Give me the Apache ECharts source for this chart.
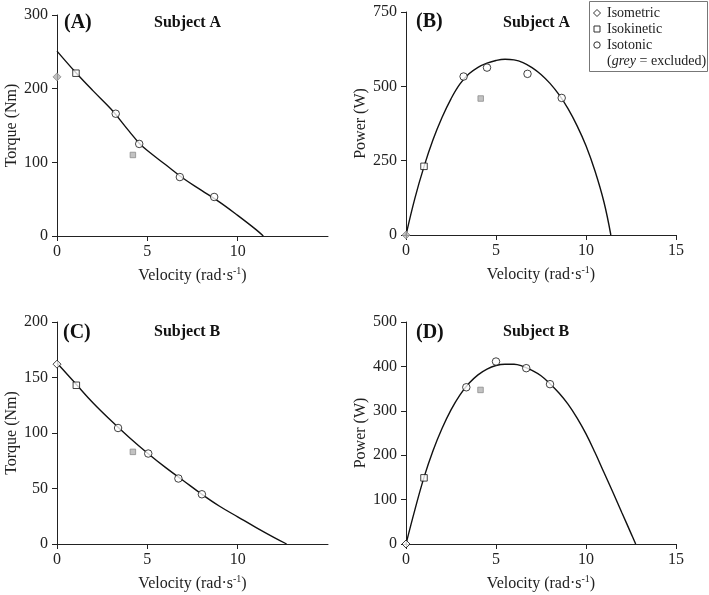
<!DOCTYPE html>
<html><head><meta charset="utf-8">
<script src="https://cdn.jsdelivr.net/npm/echarts@6/dist/echarts.min.js"></script>
<style>html,body{margin:0;padding:0;background:#fff}#c{width:709px;height:595px}</style>
</head><body><div id="c"></div>
<script>
// ---- Data ----
// Panel A: Subject A torque-velocity
const curveA_v = [0, 1, 2, 3, 4, 4.55, 5, 6, 7, 8, 9, 10, 11, 11.42];
const curveA_T = [251, 223, 197, 172, 142, 126, 116, 97, 78, 62, 46, 28, 9, 0];
const isometricA = [[0, 216]];
const isokineticA = [[1.05, 221]];
const isokineticA_excl = [[4.2, 110]];
const isotonicA_v = [3.25, 4.55, 6.8, 8.7];
const isotonicA_T = [166, 125, 80, 53];
// Panel B: Subject A power-velocity
const curveB_v = [0, 0.5, 1, 1.5, 2, 2.5, 3, 3.5, 4, 4.5, 5, 5.5, 6, 6.5, 7, 7.5, 8, 8.5, 9, 9.5, 10, 10.5, 11, 11.38];
const curveB_P = [0, 125, 230, 320, 395, 458, 508, 542, 564, 578, 587, 591, 589, 580, 563, 540, 510, 472, 425, 368, 300, 215, 110, 0];
const isometricB = [[0, 0]];
const isokineticB = [[1.0, 231]];
const isokineticB_excl = [[4.15, 459]];
const isotonicB_v = [3.2, 4.5, 6.75, 8.65];
const isotonicB_P = [533, 563, 542, 461];
// Panel C: Subject B torque-velocity
const curveC_v = [0, 1, 2, 3, 4, 5, 6, 7, 8, 9, 10, 11, 12, 12.71];
const curveC_T = [163, 145, 127, 111, 96, 82, 69, 57, 45, 34, 24.5, 15, 6, 0];
const isometricC = [[0, 162]];
const isokineticC = [[1.07, 143]];
const isokineticC_excl = [[4.2, 83]];
const isotonicC_v = [3.38, 5.05, 6.72, 8.02];
const isotonicC_T = [104.5, 81.5, 59, 44.8];
// Panel D: Subject B power-velocity
const curveD_v = [0, 0.5, 1, 1.5, 2, 2.5, 3, 3.5, 4, 4.5, 5, 5.5, 6, 6.5, 7, 7.5, 8, 8.5, 9, 9.5, 10, 10.5, 11, 11.5, 12, 12.5, 12.76];
const curveD_P = [0, 78, 150, 210, 260, 302, 336, 362, 381, 394, 402, 405, 405, 400, 391, 379, 361, 340, 315, 284, 248, 206, 161, 116, 70, 24, 0];
const isometricD = [[0, 0]];
const isokineticD = [[1.0, 149]];
const isokineticD_excl = [[4.14, 347]];
const isotonicD_v = [3.35, 5.0, 6.68, 8.0];
const isotonicD_P = [353, 411, 396, 360];

const panelLabels = ['(A)', '(B)', '(C)', '(D)'];
const subjectLabels = ['Subject A', 'Subject A', 'Subject B', 'Subject B'];
const yNames = ['Torque (Nm)', 'Power (W)', 'Torque (Nm)', 'Power (W)'];
const yMax = [300, 750, 200, 500];
const yInterval = [100, 250, 50, 100];
const xName = 'Velocity (rad\u00B7s{sup|-1})';
const legendLabels = ['Isometric', 'Isokinetic', 'Isotonic'];

// ---- Build chart ----
const FONT = 'Liberation Serif';
const INK = '#222';
const GREY_FILL = '#b3b3b3', GREY_BORDER = '#8c8c8c';
const zip = (a, b) => a.map((v, i) => [v, b[i]]);

const grids = [
  {left: 57, top: 15, width: 271, height: 221},
  {left: 406, top: 12, width: 270, height: 223},
  {left: 57, top: 322, width: 271, height: 222},
  {left: 406, top: 322, width: 270, height: 222}
];

const xAxes = grids.map((g, i) => ({
  type: 'value', gridIndex: i, min: 0, max: 15, interval: 5,
  axisLine: {show: true, onZero: false, lineStyle: {color: INK, width: 1}},
  axisTick: {show: true, length: 5, lineStyle: {color: INK}},
  splitLine: {show: false},
  axisLabel: {fontFamily: FONT, fontSize: 16, color: INK, margin: 8, showMaxLabel: (i % 2 === 1)},
  name: xName, nameLocation: 'middle', nameGap: 30,
  nameTextStyle: {fontFamily: FONT, fontSize: 16, color: INK, lineHeight: 20,
    rich: {sup: {fontFamily: FONT, fontSize: 10, lineHeight: 10, verticalAlign: 'top', color: INK}}}
}));

const yAxes = grids.map((g, i) => ({
  type: 'value', gridIndex: i, min: 0, max: yMax[i], interval: yInterval[i],
  axisLine: {show: true, onZero: false, lineStyle: {color: INK, width: 1}},
  axisTick: {show: true, length: 5, lineStyle: {color: INK}},
  splitLine: {show: false},
  axisLabel: {fontFamily: FONT, fontSize: 16, color: INK, margin: 9},
  name: yNames[i], nameLocation: 'middle', nameGap: 37, nameRotate: 90,
  nameTextStyle: {fontFamily: FONT, fontSize: 16, color: INK}
}));

const curves = [zip(curveA_v, curveA_T), zip(curveB_v, curveB_P), zip(curveC_v, curveC_T), zip(curveD_v, curveD_P)];
const isometric = [isometricA, isometricB, isometricC, isometricD];
const isokinetic = [isokineticA, isokineticB, isokineticC, isokineticD];
const isokineticEx = [isokineticA_excl, isokineticB_excl, isokineticC_excl, isokineticD_excl];
const isotonic = [zip(isotonicA_v, isotonicA_T), zip(isotonicB_v, isotonicB_P), zip(isotonicC_v, isotonicC_T), zip(isotonicD_v, isotonicD_P)];
const isometricGrey = [true, true, false, false];

const series = [];
grids.forEach((g, i) => {
  series.push({
    type: 'line', xAxisIndex: i, yAxisIndex: i, data: curves[i], smooth: 0.4,
    symbol: 'none', lineStyle: {color: '#111', width: 1.4}, z: 2, silent: true, animation: false
  });
  series.push({
    name: 'Isometric', type: 'scatter', xAxisIndex: i, yAxisIndex: i, data: isometric[i],
    symbol: 'diamond', symbolSize: [8, 8], clip: false, z: 5, animation: false,
    itemStyle: isometricGrey[i] ? {color: GREY_FILL, borderColor: GREY_BORDER, borderWidth: 1}
                                : {color: '#fff', borderColor: '#111', borderWidth: 1}
  });
  series.push({
    name: 'Isokinetic', type: 'scatter', xAxisIndex: i, yAxisIndex: i, data: isokinetic[i],
    symbol: 'rect', symbolSize: 6.5, clip: false, z: 5, animation: false,
    itemStyle: {color: '#fff', borderColor: '#111', borderWidth: 1}
  });
  series.push({
    name: 'Isokinetic (excluded)', type: 'scatter', xAxisIndex: i, yAxisIndex: i, data: isokineticEx[i],
    symbol: 'rect', symbolSize: 5.5, clip: false, z: 5, animation: false,
    itemStyle: {color: GREY_FILL, borderColor: GREY_BORDER, borderWidth: 1}
  });
  series.push({
    name: 'Isotonic', type: 'scatter', xAxisIndex: i, yAxisIndex: i, data: isotonic[i],
    symbol: 'circle', symbolSize: 7.5, clip: false, z: 5, animation: false,
    itemStyle: {color: '#fff', borderColor: '#111', borderWidth: 1}
  });
});

const titlePos = [
  {p: [64, 13], s: [154, 15]},
  {p: [416, 12], s: [503, 15]},
  {p: [63, 323], s: [154, 324]},
  {p: [416, 323], s: [503, 324]}
];
const titles = [];
titlePos.forEach((t, i) => {
  titles.push({text: panelLabels[i], left: t.p[0], top: t.p[1], padding: 0,
    textStyle: {fontFamily: FONT, fontSize: 20, fontWeight: 'bold', color: '#111'}});
  titles.push({text: subjectLabels[i], left: t.s[0], top: t.s[1], padding: 0,
    textStyle: {fontFamily: FONT, fontSize: 16, fontWeight: 'bold', color: '#111'}});
});

const legendY = [13, 29, 45, 61];
const graphic = [
  {type: 'rect', shape: {x: 589.5, y: 1.5, width: 118, height: 70}, style: {fill: '#fff', stroke: '#777', lineWidth: 1}, z: 10},
  {type: 'polygon', shape: {points: [[597, legendY[0] - 3.5], [600.5, legendY[0]], [597, legendY[0] + 3.5], [593.5, legendY[0]]]},
   style: {fill: '#fff', stroke: '#333', lineWidth: 1}, z: 11},
  {type: 'rect', shape: {x: 594, y: legendY[1] - 3, width: 6, height: 6}, style: {fill: '#fff', stroke: '#333', lineWidth: 1}, z: 11},
  {type: 'circle', shape: {cx: 597, cy: legendY[2], r: 3.2}, style: {fill: '#fff', stroke: '#333', lineWidth: 1}, z: 11},
  ...legendLabels.map((t, k) => ({type: 'text', x: 607, y: legendY[k], z: 11,
    style: {text: t, fontFamily: FONT, fontSize: 14, fill: INK, verticalAlign: 'middle', align: 'left'}})),
  {type: 'text', x: 607, y: legendY[3], z: 11,
   style: {text: '({i|grey} = excluded)', fontFamily: FONT, fontSize: 14, fill: INK, verticalAlign: 'middle', align: 'left',
     rich: {i: {fontFamily: FONT, fontSize: 14, fontStyle: 'italic', fill: INK}}}}
];

const chart = echarts.init(document.getElementById('c'));
chart.setOption({
  backgroundColor: '#fff',
  animation: false,
  title: titles,
  grid: grids,
  xAxis: xAxes,
  yAxis: yAxes,
  series: series,
  graphic: graphic
});
</script></body></html>
